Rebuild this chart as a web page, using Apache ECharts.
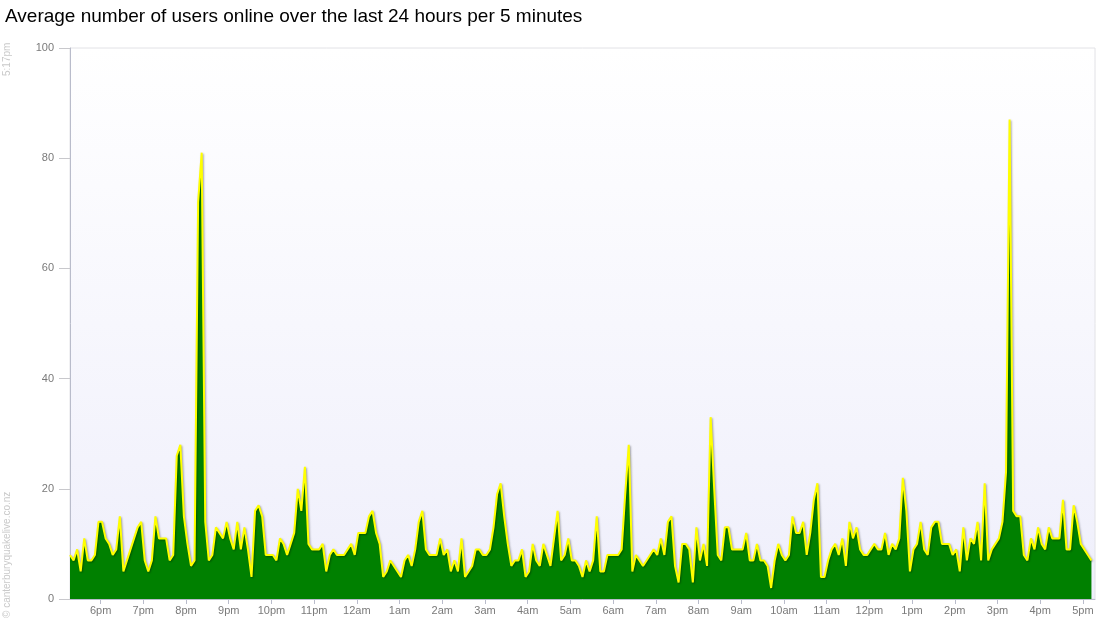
<!DOCTYPE html>
<html><head><meta charset="utf-8">
<script src="https://cdn.jsdelivr.net/npm/echarts@6/dist/echarts.min.js"></script>
<style>html,body{margin:0;padding:0;background:#fff}#c{width:1100px;height:640px}</style>
</head><body><div id="c"></div>
<script>
// minutes after 5:00pm of the first sample (5:17pm), sampled every 5 minutes
const startMinute = 17;
const stepMinutes = 5;
const spanMinutes = 1440;

const users = [
  8,7,9,5,11,7,7,8,14,14,11,10,8,9,15,5,7,9,11,13,14,7,5,7,15,11,11,11,7,8,26,28,
  15,10,6,7,72,81,14,7,8,13,12,11,14,11,9,14,9,13,9,4,16,17,15,8,8,8,7,11,10,8,10,12,
  20,16,24,10,9,9,9,10,5,8,9,8,8,8,9,10,8,12,12,12,15,16,12,10,4,5,7,6,5,4,7,8,6,
  9,14,16,9,8,8,8,11,8,9,5,7,5,11,4,5,6,9,9,8,8,9,13,19,21,15,10,6,7,7,9,4,
  5,10,7,6,10,8,6,11,16,7,8,11,7,7,6,4,7,5,7,15,5,5,8,8,8,8,9,19,28,5,8,7,6,
  7,8,9,8,11,8,14,15,6,3,10,10,9,3,13,7,10,6,33,20,8,7,13,13,9,9,9,9,12,7,7,10,
  7,7,6,2,7,10,8,7,8,15,12,12,14,8,12,18,21,4,4,7,9,10,8,11,6,14,11,13,9,8,8,9,
  10,9,9,12,8,10,9,11,22,16,5,9,10,14,9,8,13,14,14,10,10,10,8,9,5,13,7,11,10,14,7,21,
  7,9,10,11,14,23,87,16,15,15,8,7,11,9,13,10,9,13,11,11,11,18,9,9,17,14,10,9,8,7
];

const hourLabels = ['6pm','7pm','8pm','9pm','10pm','11pm','12am','1am','2am','3am','4am','5am',
  '6am','7am','8am','9am','10am','11am','12pm','1pm','2pm','3pm','4pm','5pm'];
const hourMinutes = hourLabels.map((_, i) => 60 * (i + 1));

const titleText = 'Average number of users online over the last 24 hours per 5 minutes';
const stampText = '5:17pm';
const copyText = '\u00a9 canterburyquakelive.co.nz';

const seriesData = users.map((v, i) => [startMinute + i * stepMinutes, v]);

const chart = echarts.init(document.getElementById('c'), null, {renderer: 'canvas'});
chart.setOption({
  animation: false,
  backgroundColor: '#ffffff',
  title: {
    text: titleText, left: 0, top: 2,
    textStyle: {fontFamily: 'Liberation Sans, Arial, sans-serif', fontSize: 19, fontWeight: 'normal', color: '#000'}
  },
  grid: {
    left: 70, right: 5, top: 48, bottom: 41,
    show: true,
    borderColor: '#e2e2e6', borderWidth: 1,
    backgroundColor: new echarts.graphic.LinearGradient(0, 0, 0, 1, [
      {offset: 0, color: '#ffffff'}, {offset: 1, color: '#efeffb'}
    ])
  },
  xAxis: {
    type: 'value',
    min: startMinute, max: startMinute + spanMinutes,
    axisLine: {show: true, onZero: false, lineStyle: {color: '#b9bccb', width: 1}},
    axisTick: {show: true, customValues: hourMinutes, length: 5, lineStyle: {color: '#b9bccb'}},
    axisLabel: {
      customValues: hourMinutes,
      formatter: v => hourLabels[hourMinutes.indexOf(v)] || '',
      color: '#7a7a7a', fontSize: 11, margin: 6,
      fontFamily: 'Liberation Sans, Arial, sans-serif'
    },
    splitLine: {show: false}
  },
  yAxis: {
    type: 'value', min: 0, max: 100, interval: 20,
    axisLine: {show: true, lineStyle: {color: '#b9bccb', width: 1}},
    axisTick: {show: true, length: 11, lineStyle: {color: '#c8c8cc'}},
    axisLabel: {color: '#7a7a7a', fontSize: 11, margin: 16, fontFamily: 'Liberation Sans, Arial, sans-serif'},
    splitLine: {show: false}
  },
  series: [{
    type: 'line',
    data: seriesData,
    showSymbol: false,
    smooth: false,
    lineStyle: {color: '#ffff00', width: 2, shadowColor: 'rgba(0,0,0,0.35)', shadowBlur: 2, shadowOffsetX: 1, shadowOffsetY: 1},
    areaStyle: {color: '#008000', opacity: 1},
    emphasis: {disabled: true}
  }],
  graphic: [
    {type: 'text', x: 7, y: 76, rotation: Math.PI / 2,
     style: {text: stampText, fill: '#c9c9c9', font: '10px Liberation Sans, Arial, sans-serif', textAlign: 'left', textVerticalAlign: 'middle'}},
    {type: 'text', x: 7, y: 618, rotation: Math.PI / 2,
     style: {text: copyText, fill: '#c9c9c9', font: '10px Liberation Sans, Arial, sans-serif', textAlign: 'left', textVerticalAlign: 'middle'}}
  ]
});
</script>
</body></html>
